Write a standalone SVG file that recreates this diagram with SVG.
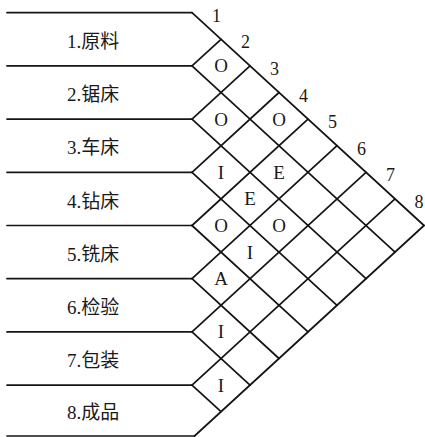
<svg xmlns="http://www.w3.org/2000/svg" width="425" height="437" viewBox="0 0 425 437">
<style>
.ln{stroke:#141414;stroke-width:1.7;fill:none;stroke-linecap:round}
.lb{font-family:"Liberation Serif","Noto Sans CJK SC",serif;font-size:19px;fill:#1a1a1a}
.rel{font-family:"Liberation Serif",serif;font-size:19px;fill:#1a1a1a;text-anchor:middle}
.num{font-family:"Liberation Serif",serif;font-size:18px;fill:#1a1a1a;text-anchor:middle}
</style>
<rect width="425" height="437" fill="#fff"/>
<g id="connectors">
<path class="ln" d="M7 12.7H192M7 65.9H192M7 119.1H192M7 172.3H192M7 225.5H192M7 278.7H192M7 331.9H192M7 385.1H192M7 436H194.5"/>
<path class="ln" d="M192 12.7L424 225.5M192 65.9L395 252.1M192 119.1L366 278.7M192 172.3L337 305.3M192 225.5L308 331.9M192 278.7L279 358.5M192 331.9L250 385.1M192 385.1L221 411.7"/>
<path class="ln" d="M192 65.9L221 39.3M192 119.1L250 65.9M192 172.3L279 92.5M192 225.5L308 119.1M192 278.7L337 145.7M192 331.9L366 172.3M192 385.1L395 198.9M194.5 436L424 225.5"/>
</g>
<g id="labels">
<g id="dept1"><text class="lb" x="67" y="48">1.原料</text></g>
<g id="dept2"><text class="lb" x="67" y="101.2">2.锯床</text></g>
<g id="dept3"><text class="lb" x="67" y="154.4">3.车床</text></g>
<g id="dept4"><text class="lb" x="67" y="207.6">4.钻床</text></g>
<g id="dept5"><text class="lb" x="67" y="260.8">5.铣床</text></g>
<g id="dept6"><text class="lb" x="67" y="314">6.检验</text></g>
<g id="dept7"><text class="lb" x="67" y="367.2">7.包装</text></g>
<g id="dept8"><text class="lb" x="67" y="419">8.成品</text></g>
</g>
<g id="numbers">
<text class="num" x="216.5" y="21.7">1</text>
<text class="num" x="245.5" y="48.3">2</text>
<text class="num" x="274.5" y="74.9">3</text>
<text class="num" x="303.5" y="101.5">4</text>
<text class="num" x="332.5" y="128.1">5</text>
<text class="num" x="361.5" y="154.7">6</text>
<text class="num" x="390.5" y="181.3">7</text>
<text class="num" x="419" y="207.9">8</text>
</g>
<g id="relations">
<g id="r1-2"><text class="rel" x="221" y="72.4">O</text></g>
<g id="r2-3"><text class="rel" x="221" y="125.6">O</text></g>
<g id="r1-4"><text class="rel" x="279" y="125.6">O</text></g>
<g id="r3-4"><text class="rel" x="221" y="178.8">I</text></g>
<g id="r2-5"><text class="rel" x="279" y="178.8">E</text></g>
<g id="r3-5"><text class="rel" x="250" y="205.4">E</text></g>
<g id="r4-5"><text class="rel" x="221" y="232">O</text></g>
<g id="r3-6"><text class="rel" x="279" y="232">O</text></g>
<g id="r4-6"><text class="rel" x="250" y="258.6">I</text></g>
<g id="r5-6"><text class="rel" x="221" y="285.2">A</text></g>
<g id="r6-7"><text class="rel" x="221" y="338.4">I</text></g>
<g id="r7-8"><text class="rel" x="221" y="391.6">I</text></g>
</g>
</svg>
